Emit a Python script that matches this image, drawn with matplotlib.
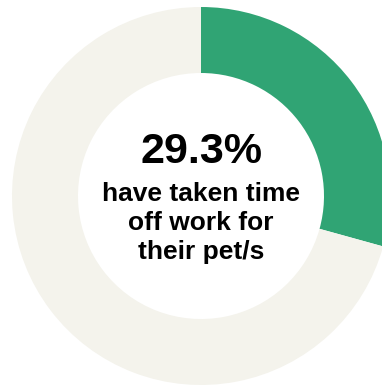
import matplotlib.pyplot as plt

# Share of respondents
labels = ['Taken time off', 'Not taken time off']
values = [29.3, 70.7]
colors = ['#30a474', '#f4f3ec']
headline = '29.3%'
caption = 'have taken time\noff work for\ntheir pet/s'

plt.rcParams['font.family'] = ['Liberation Sans', 'DejaVu Sans']

fig = plt.figure(figsize=(3.82, 3.87), dpi=100)
ax = fig.add_axes([0, 0, 1, 1])

# donut, drawn in pixel-like coordinates so it can run off the right edge
ax.pie(values, colors=colors, startangle=90, counterclock=False,
       radius=189, center=(201, 191),
       wedgeprops=dict(width=66, linewidth=0))
ax.set_xlim(0, 382)
ax.set_ylim(0, 387)
ax.set_aspect('equal')
ax.axis('off')

ax.text(201, 235, headline, ha='center', va='center',
        fontsize=31, fontweight='bold', color='#000000')
ax.text(201, 164, caption, ha='center', va='center',
        fontsize=19, fontweight='bold', color='#000000', linespacing=1.27)

fig.savefig('out.png', dpi=100)
